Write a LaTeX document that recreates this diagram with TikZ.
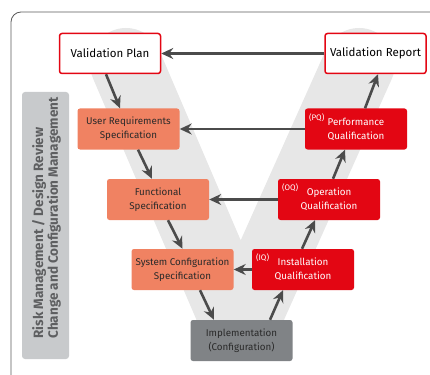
\documentclass[tikz,border=0pt]{standalone}
\usepackage{fontspec}
\setmainfont{Fira Sans}
\usetikzlibrary{arrows.meta,calc}
\definecolor{vred}{HTML}{E30613}
\definecolor{salmon}{HTML}{F08262}
\definecolor{implgray}{HTML}{808386}
\definecolor{sidegray}{HTML}{C8CACC}
\definecolor{sidetext}{HTML}{5E5F61}
\definecolor{vband}{HTML}{E7E7E7}
\definecolor{arrowgray}{HTML}{4B4B4B}
\definecolor{framegray}{HTML}{5A5A5A}
\definecolor{darktext}{HTML}{2A2A2A}
\begin{document}
\begin{tikzpicture}[x=1pt,y=-1pt,
  box/.style={rectangle, rounded corners=2.5pt, minimum width=102pt, minimum height=41pt,
    align=center, inner sep=2pt, font=\fontsize{9.8}{14}\selectfont},
  endbox/.style={box, draw=vred, line width=1.5pt, fill=white, minimum width=101pt, minimum height=40pt,
    text=black, font=\fontsize{11.5}{13}\selectfont},
  specbox/.style={box, fill=salmon, text=darktext},
  qualbox/.style={box, fill=vred, text=white},
  implbox/.style={box, fill=implgray, text=darktext},
  tag/.style={anchor=north west, inner sep=0pt, text=white, font=\fontsize{8}{9}\selectfont},
  arr/.style={draw=arrowgray, line width=2.6pt, -{Stealth[length=12pt,width=11pt,inset=4pt]}}]
\useasboundingbox (0,0) rectangle (430,374);
\clip (0,0) rectangle (430,374);
% frame
\draw[framegray, line width=0.8pt, rounded corners=10pt] (11,12) rectangle (442,388);
% V band
\begin{scope}
\clip (0,0) rectangle (430,335);
\draw[vband, line width=72pt, line cap=round, line join=miter] (126,64) -- (240,330) -- (359,64);
\end{scope}
% side bar
\fill[sidegray, rounded corners=3pt] (22,92) rectangle (69,359);
\node[rotate=90, align=left, inner sep=0pt, text=sidetext, font=\bfseries\fontsize{13.5}{12.8}\selectfont] (side) at (46.5,218)
  {Risk Management / Design Review\\Change and Configuration Management};
% nodes
\node[endbox] (vp) at (110,53.5) {Validation Plan};
\node[endbox] (vr) at (375.5,53.5) {Validation Report};
\node[specbox] (urs) at (128.5,129) {User Requirements\\Specification};
\node[specbox] (fs) at (158,199.5) {Functional\\Specification};
\node[specbox] (scs) at (182.5,269.5) {System Configuration\\Specification};
\node[implbox] (impl) at (241.5,340.5) {Implementation\\(Configuration)};
\node[qualbox] (pq) at (356,129) {Performance\\Qualification};
\node[qualbox] (oq) at (329,199.5) {Operation\\Qualification};
\node[qualbox] (iq) at (303,269.5) {Installation\\Qualification};
\node[tag] (pqt) at ($(pq.north west)+(4,5)$) {(PQ)};
\node[tag] (oqt) at ($(oq.north west)+(4,5)$) {(OQ)};
\node[tag] (iqt) at ($(iq.north west)+(4,5)$) {(IQ)};
% horizontal arrows
\draw[arr] (vr.west) -- (vp.east);
\draw[arr] (pq.west) -- (urs.east);
\draw[arr] (oq.west) -- (fs.east);
\draw[arr] (iq.west) -- (scs.east);
% slanted arrows
\draw[arr] ($(vp.south)+(-4,0)$) -- ($(urs.north)+(-8.5,0)$);
\draw[arr] ($(urs.south)+(9.5,0)$) -- ($(fs.north)+(-6,0)$);
\draw[arr] ($(fs.south)+(10,0)$) -- ($(scs.north)+(0,0)$);
\draw[arr] ($(scs.south)+(17.5,0)$) -- ($(impl.north)+(-27.5,0)$);
\draw[arr] ($(impl.north)+(28.5,0)$) -- ($(iq.south)+(-20,0)$);
\draw[arr] ($(iq.north)+(-1,0)$) -- ($(oq.south)+(-14,0)$);
\draw[arr] ($(oq.north)+(4,0)$) -- ($(pq.south)+(-11,0)$);
\draw[arr] ($(pq.north)+(9,0)$) -- ($(vr.south)+(2.5,0)$);
\end{tikzpicture}
\end{document}
